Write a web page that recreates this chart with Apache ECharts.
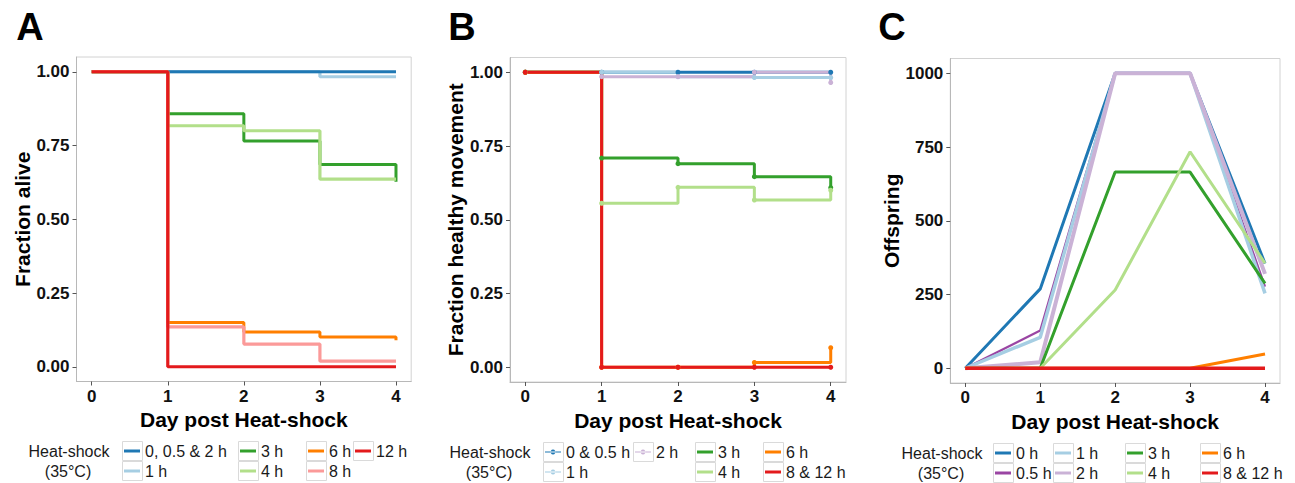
<!DOCTYPE html>
<html>
<head>
<meta charset="utf-8">
<script src="https://cdn.jsdelivr.net/npm/echarts@6/dist/echarts.min.js"></script>
<style>html,body{margin:0;padding:0;background:#fff;}#c{width:1295px;height:483px;}</style>
</head>
<body>
<div id="c"></div>
<script>
// ---- data ----
const days = [0, 1, 2, 3, 4];
const xTicks = [0, 1, 2, 3, 4];
const fracTicks = [0, 0.25, 0.5, 0.75, 1];
const offTicks = [0, 250, 500, 750, 1000];

// Panel A: Fraction alive
const aliveNames = ['1 h', '0, 0.5 & 2 h', '3 h', '4 h', '6 h', '8 h', '12 h'];
const alive_1h   = [1, 1, 1, 0.983, 0.983];
const alive_0    = [1, 1, 1, 1, 1];
const alive_3h   = [1, 0.858, 0.765, 0.686, 0.627];
const alive_4h   = [1, 0.817, 0.800, 0.636, 0.636];
const alive_6h   = [1, 0.150, 0.118, 0.101, 0.090];
const alive_8h   = [1, 0.135, 0.077, 0.019, 0.019];
const alive_12h  = [1, 0, 0, 0, 0];

// Panel B: Fraction healthy movement
const moveNames = ['0 & 0.5 h', '1 h', '2 h', '3 h', '4 h', '6 h', '8 & 12 h'];
const move_0   = [1, 1, 1, 1, 1];
const move_1h  = [1, 1, 0.985, 0.982, 0.982];
const move_2h  = [1, 0.985, 0.985, 1, 0.965];
const move_3h  = [1, 0.709, 0.690, 0.646, 0.609];
const move_4h  = [1, 0.556, 0.610, 0.567, 0.600];
const move_6h  = [1, 0, 0, 0.016, 0.066];
const move_8h  = [1, 0, 0, 0, 0];

// Panel C: Offspring
const offNames = ['0 h', '0.5 h', '1 h', '2 h', '3 h', '4 h', '6 h', '8 & 12 h'];
const off_0h   = [0, 269, 1000, 1000, 355];
const off_05h  = [0, 128, 1000, 1000, 277];
const off_1h   = [0, 105, 1000, 1000, 254];
const off_2h   = [0, 20, 1000, 1000, 320];
const off_3h   = [0, 0, 665, 665, 288];
const off_4h   = [0, 0, 265, 734, 356];
const off_6h   = [0, 0, 0, 0, 48];
const off_8h   = [0, 0, 0, 0, 0];

// ---- styles ----
const COL = {
  dblue: '#1F78B4', lblue: '#A6CEE3', green: '#33A02C', lgreen: '#B2DF8A',
  orange: '#FF7F00', pink: '#FB9A99', red: '#E31A1C', purple: '#9A45A3', lpurple: '#CAB2D6'
};
const FONT = 'Liberation Sans, Arial, sans-serif';

const pts = arr => days.map((d, i) => [d, arr[i]]);

function stepSeries(name, data, color, idx, width, sym) {
  return {
    type: 'line', name, data: pts(data), xAxisIndex: idx, yAxisIndex: idx,
    step: 'end', color,
    symbol: sym ? 'circle' : 'none', symbolSize: 5, showSymbol: !!sym,
    lineStyle: { width: width, color },
    itemStyle: { color },
    emphasis: { disabled: true }, silent: true
  };
}
function plainSeries(name, data, color, width) {
  return {
    type: 'line', name, data: pts(data), xAxisIndex: 2, yAxisIndex: 2,
    color, symbol: 'none', showSymbol: false,
    lineStyle: { width: width, color }, itemStyle: { color },
    emphasis: { disabled: true }, silent: true
  };
}

const series = [
  stepSeries(aliveNames[0], alive_1h, COL.lblue, 0, 3.2),
  stepSeries(aliveNames[1], alive_0, COL.dblue, 0, 3),
  stepSeries(aliveNames[2], alive_3h, COL.green, 0, 3),
  stepSeries(aliveNames[3], alive_4h, COL.lgreen, 0, 3.2),
  stepSeries(aliveNames[4], alive_6h, COL.orange, 0, 3),
  stepSeries(aliveNames[5], alive_8h, COL.pink, 0, 3.2),
  stepSeries(aliveNames[6], alive_12h, COL.red, 0, 3.2),

  stepSeries(moveNames[0], move_0, COL.dblue, 1, 3, true),
  stepSeries(moveNames[1], move_1h, COL.lblue, 1, 3, true),
  stepSeries(moveNames[2], move_2h, COL.lpurple, 1, 3, true),
  stepSeries(moveNames[3], move_3h, COL.green, 1, 3, true),
  stepSeries(moveNames[4], move_4h, COL.lgreen, 1, 3, true),
  stepSeries(moveNames[5], move_6h, COL.orange, 1, 3, true),
  stepSeries(moveNames[6], move_8h, COL.red, 1, 3, true),

  plainSeries(offNames[0], off_0h, COL.dblue, 3),
  plainSeries(offNames[1], off_05h, COL.purple, 2.2),
  plainSeries(offNames[2], off_1h, COL.lblue, 3.5),
  plainSeries(offNames[3], off_2h, COL.lpurple, 4),
  plainSeries(offNames[4], off_3h, COL.green, 3),
  plainSeries(offNames[5], off_4h, COL.lgreen, 3),
  plainSeries(offNames[6], off_6h, COL.orange, 3),
  plainSeries(offNames[7], off_8h, COL.red, 3.5)
];

const grids = [
  { left: 76.5, top: 57, width: 334.7, height: 324.5 },
  { left: 510, top: 57.5, width: 336, height: 324.5 },
  { left: 950.3, top: 58.5, width: 329.7, height: 324.5 }
].map(g => Object.assign(g, { show: true, borderColor: '#d2d2d2', borderWidth: 1, backgroundColor: '#fff', containLabel: false }));

const axisCommon = {
  splitLine: { show: false },
  axisLine: { show: true, onZero: false, lineStyle: { color: '#b8b8b8', width: 1 } },
  nameTextStyle: { fontFamily: FONT, fontSize: 21, fontWeight: 'bold', color: '#000' }
};
function xAxis(idx) {
  return Object.assign({}, axisCommon, {
    type: 'value', gridIndex: idx, min: -0.2, max: 4.2,
    name: 'Day post Heat-shock', nameLocation: 'middle', nameGap: 23,
    axisTick: { show: true, length: 4, lineStyle: { color: '#555' }, customValues: xTicks },
    axisLabel: { customValues: xTicks, margin: 6, fontFamily: FONT, fontSize: 17, fontWeight: 'bold', color: '#111' }
  });
}
function yAxis(idx, name, gap, min, max, ticks, fmt) {
  return Object.assign({}, axisCommon, {
    type: 'value', gridIndex: idx, min, max,
    name, nameLocation: 'middle', nameGap: gap,
    axisTick: { show: true, length: 4, lineStyle: { color: '#555' }, customValues: ticks },
    axisLabel: { customValues: ticks, margin: 7, fontFamily: FONT, fontSize: 17, fontWeight: 'bold', color: '#111', formatter: fmt }
  });
}

const legendText = { fontFamily: FONT, fontSize: 16, color: '#1a1a1a', lineHeight: 20 };
const dotIcon = 'path://M0,2.3 L20,2.3 L20,3.7 L0,3.7 Z M10,0 A3,3 0 1,0 10.01,0 Z';
function legend(names, boxLeft, row1, icon, ih) {
  return {
    data: names, orient: 'vertical', left: boxLeft + 2, top: row1 - 10,
    padding: 0, itemGap: 0, itemWidth: 16, itemHeight: ih || 3,
    icon: icon || 'rect', itemStyle: { borderWidth: 0 },
    textStyle: legendText, selectedMode: false
  };
}
const legends = [
  legend(['0, 0.5 & 2 h', '1 h'], 122, 451),
  legend(['3 h', '4 h'], 238, 451),
  legend(['6 h', '8 h'], 306, 451),
  legend(['12 h'], 353, 451),

  legend(['0 & 0.5 h', '1 h'], 543, 452, dotIcon, 5),
  legend(['2 h'], 633, 452, dotIcon, 5),
  legend(['3 h', '4 h'], 695, 452),
  legend(['6 h', '8 & 12 h'], 763, 452),

  legend(['0 h', '0.5 h'], 993, 453),
  legend(['1 h', '2 h'], 1053, 453),
  legend(['3 h', '4 h'], 1125, 453),
  legend(['6 h', '8 & 12 h'], 1200, 453)
];

// legend key boxes
const boxSpecs = [
  [122, 451, 2], [238, 451, 2], [306, 451, 2], [353, 451, 1],
  [543, 452, 2], [633, 452, 1], [695, 452, 2], [763, 452, 2],
  [993, 453, 2], [1053, 453, 2], [1125, 453, 2], [1200, 453, 2]
];
const graphics = [];
boxSpecs.forEach(([x, r, n]) => {
  for (let k = 0; k < n; k++) {
    graphics.push({ type: 'rect', silent: true, z: -1,
      shape: { x: x + 0.5, y: r - 10 + k * 20 + 0.5, width: 20, height: 19 },
      style: { fill: 'none', stroke: '#dadada', lineWidth: 1 } });
  }
});
const headers = [[69, 451], [490, 452], [942, 453]];
headers.forEach(([x, r]) => {
  graphics.push({ type: 'text', silent: true, x: x, y: r,
    style: { text: 'Heat-shock', fontFamily: FONT, fontSize: 16, fill: '#1a1a1a', align: 'center', verticalAlign: 'middle' } });
  graphics.push({ type: 'text', silent: true, x: x - 1, y: r + 20,
    style: { text: '(35°C)', fontFamily: FONT, fontSize: 16, fill: '#1a1a1a', align: 'center', verticalAlign: 'middle' } });
});
[['A', 30, 26.5], ['B', 462, 26.5], ['C', 892, 26.5]].forEach(([t, x, y]) => {
  graphics.push({ type: 'text', silent: true, x, y,
    style: { text: t, fontFamily: FONT, fontSize: 38, fontWeight: 'bold', fill: '#000', align: 'center', verticalAlign: 'middle' } });
});

const chart = echarts.init(document.getElementById('c'), null, { renderer: 'svg' });
chart.setOption({
  animation: false,
  backgroundColor: '#fff',
  grid: grids,
  xAxis: [xAxis(0), xAxis(1), xAxis(2)],
  yAxis: [
    yAxis(0, 'Fraction alive', 40, -0.05, 1.05, fracTicks, v => v.toFixed(2)),
    yAxis(1, 'Fraction healthy movement', 40, -0.05, 1.05, fracTicks, v => v.toFixed(2)),
    yAxis(2, 'Offspring', 48, -50, 1050, offTicks, v => String(Math.round(v)))
  ],
  legend: legends,
  graphic: graphics,
  series
});
</script>
</body>
</html>
